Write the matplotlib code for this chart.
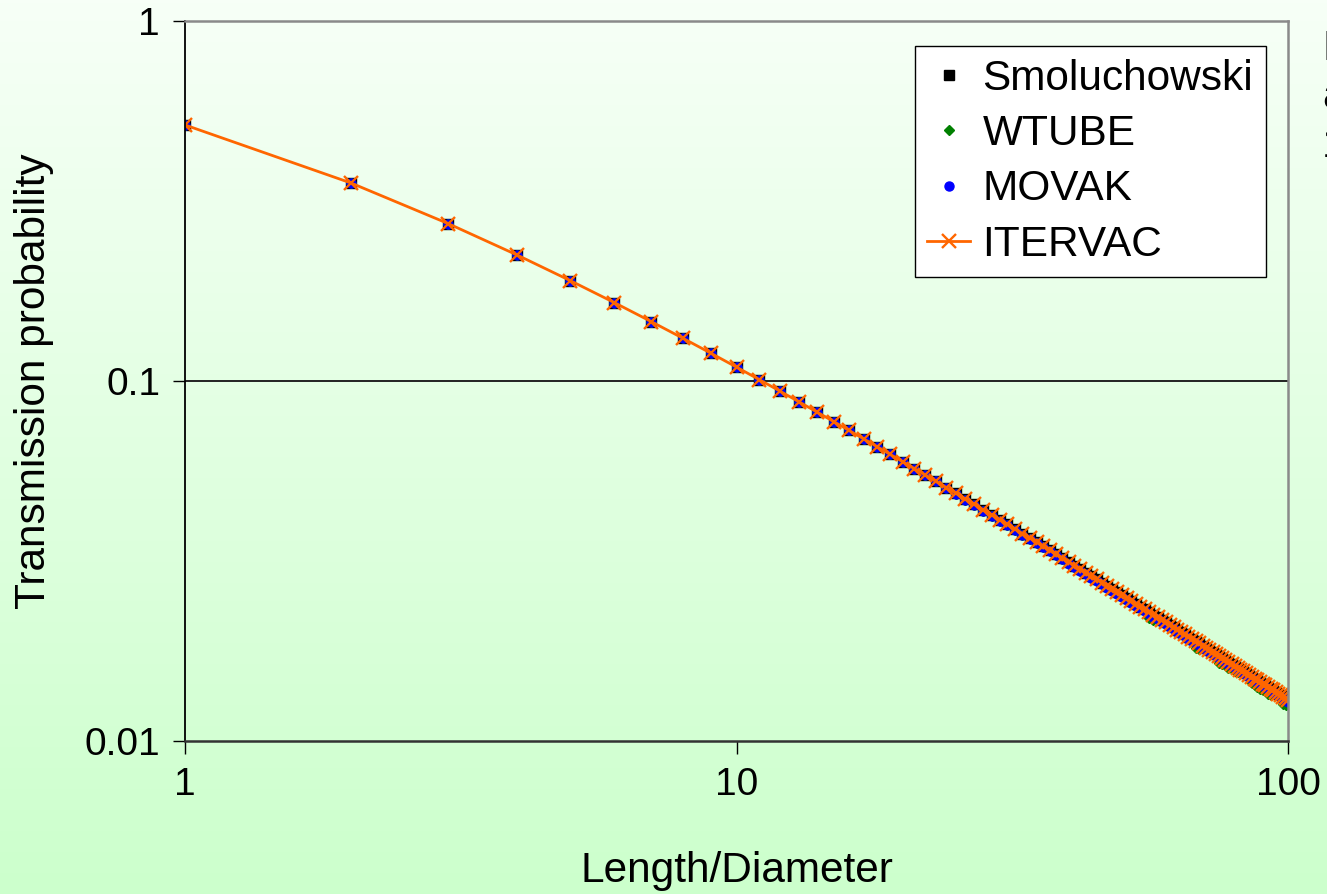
import numpy as np
import matplotlib
matplotlib.use("Agg")
import matplotlib.pyplot as plt

plt.rcParams["font.family"] = ["Liberation Sans", "DejaVu Sans"]

# Length/Diameter ratios 1..100
ratio = list(range(1, 101))

# Transmission probability (Smoluchowski / ITERVAC, they coincide on the chart)
clausing = [
    0.5143, 0.3548, 0.2737, 0.2239, 0.1899, 0.1652, 0.1463, 0.1314, 0.1193, 0.1093,
    0.10087, 0.09366, 0.08742, 0.08197, 0.07716, 0.07290, 0.06908, 0.06565, 0.06254, 0.05972,
    0.05714, 0.05478, 0.05261, 0.05060, 0.04874, 0.04701, 0.04540, 0.04390, 0.04250, 0.04118,
    0.03994, 0.03878, 0.03768, 0.03664, 0.03566, 0.03473, 0.03384, 0.03300, 0.03220, 0.03144,
    0.03072, 0.03002, 0.02936, 0.02873, 0.02812, 0.02754, 0.02698, 0.02644, 0.02593, 0.02543,
    0.02496, 0.02450, 0.02406, 0.02363, 0.02322, 0.02282, 0.02243, 0.02206, 0.02170, 0.02136,
    0.02102, 0.02069, 0.02038, 0.02007, 0.01977, 0.01948, 0.01920, 0.01893, 0.01866, 0.01840,
    0.01815, 0.01791, 0.01767, 0.01744, 0.01722, 0.01700, 0.01678, 0.01657, 0.01637, 0.01617,
    0.01598, 0.01579, 0.01560, 0.01542, 0.01525, 0.01507, 0.01491, 0.01474, 0.01458, 0.01442,
    0.01427, 0.01412, 0.01397, 0.01382, 0.01368, 0.01354, 0.01341, 0.01327, 0.01314, 0.01301,
]

movak = [
    0.5143, 0.3548, 0.2737, 0.2239, 0.1899, 0.1652, 0.1463, 0.1314, 0.1193, 0.1093,
    0.10087, 0.09366, 0.08742, 0.08197, 0.07716, 0.07290, 0.06908, 0.06565, 0.06254, 0.05972,
    0.05714, 0.05478, 0.05261, 0.05060, 0.04845, 0.04673, 0.04513, 0.04364, 0.04225, 0.04093,
    0.03970, 0.03855, 0.03745, 0.03642, 0.03545, 0.03452, 0.03364, 0.03280, 0.03201, 0.03106,
    0.03035, 0.02966, 0.02901, 0.02839, 0.02778, 0.02721, 0.02666, 0.02612, 0.02562, 0.02512,
    0.02466, 0.02421, 0.02377, 0.02335, 0.02294, 0.02255, 0.02216, 0.02180, 0.02144, 0.02110,
    0.02077, 0.02044, 0.02014, 0.01983, 0.01953, 0.01925, 0.01897, 0.01870, 0.01844, 0.01818,
    0.01793, 0.01770, 0.01746, 0.01723, 0.01701, 0.01680, 0.01658, 0.01637, 0.01617, 0.01598,
    0.01579, 0.01560, 0.01541, 0.01523, 0.01507, 0.01489, 0.01473, 0.01456, 0.01441, 0.01425,
    0.01410, 0.01395, 0.01380, 0.01365, 0.01352, 0.01338, 0.01325, 0.01311, 0.01298, 0.01285,
]

wtube = [
    0.5143, 0.3548, 0.2737, 0.2239, 0.1899, 0.1652, 0.1463, 0.1314, 0.1193, 0.1093,
    0.10087, 0.09366, 0.08742, 0.08197, 0.07716, 0.07290, 0.06908, 0.06565, 0.06254, 0.05972,
    0.05714, 0.05478, 0.05261, 0.05060, 0.04845, 0.04673, 0.04513, 0.04364, 0.04225, 0.04093,
    0.03970, 0.03855, 0.03745, 0.03642, 0.03545, 0.03452, 0.03364, 0.03280, 0.03201, 0.03106,
    0.03035, 0.02966, 0.02901, 0.02839, 0.02778, 0.02721, 0.02666, 0.02612, 0.02562, 0.02512,
    0.02466, 0.02421, 0.02377, 0.02335, 0.02294, 0.02190, 0.02170, 0.02180, 0.02144, 0.02110,
    0.02077, 0.02044, 0.02014, 0.01983, 0.01953, 0.01925, 0.01897, 0.01815, 0.01800, 0.01818,
    0.01793, 0.01770, 0.01746, 0.01723, 0.01650, 0.01632, 0.01658, 0.01595, 0.01580, 0.01565,
    0.01550, 0.01560, 0.01541, 0.01523, 0.01507, 0.01450, 0.01430, 0.01410, 0.01398, 0.01385,
    0.01410, 0.01355, 0.01345, 0.01365, 0.01352, 0.01338, 0.01325, 0.01270, 0.01262, 0.01265,
]

smoluchowski = clausing
itervac = clausing

xticks = [1, 10, 100]
xtick_labels = ["1", "10", "100"]
yticks = [0.01, 0.1, 1]
ytick_labels = ["0.01", "0.1", "1"]

FS_TICK = 28
FS = 30.5

fig = plt.figure(figsize=(13.27, 8.94), dpi=100)

# green gradient background
bg = fig.add_axes([0, 0, 1, 1], zorder=-10)
top = np.array([247, 255, 247]) / 255
bottom = np.array([204, 255, 204]) / 255
t = np.linspace(0, 1, 256)[:, None]
grad = top[None, :] * (1 - t) + bottom[None, :] * t
bg.imshow(grad[:, None, :], aspect="auto", extent=[0, 1, 0, 1])
bg.axis("off")

ax = fig.add_axes([185 / 1327, 1 - 741 / 894, 1103 / 1327, 720 / 894])
ax.set_facecolor("none")
ax.set_xscale("log")
ax.set_yscale("log")
ax.set_xlim(1, 100)
ax.set_ylim(0.01, 1)

ax.plot(ratio, smoluchowski, ls="none", marker="s", ms=6.5, color="black", label="Smoluchowski")
ax.plot(ratio, wtube, ls="none", marker="D", ms=5, color="#008000", label="WTUBE")
ax.plot(ratio, movak, ls="none", marker="o", ms=6.5, color="#0000FF", label="MOVAK")
ax.plot(ratio, itervac, ls="-", lw=2, marker="x", ms=10, mew=1.7, color="#FF6600", label="ITERVAC")

ax.axhline(0.1, color="#222222", lw=1.4, zorder=0.5)

ax.set_xticks(xticks)
ax.set_xticklabels(xtick_labels)
ax.set_yticks(yticks)
ax.set_yticklabels(ytick_labels)
ax.minorticks_off()
ax.tick_params(axis="both", which="major", direction="out", length=9, width=1,
               labelsize=FS_TICK, color="black")
ax.tick_params(axis="x", pad=10)
ax.tick_params(axis="y", pad=9)

ax.spines["left"].set_color("black")
ax.spines["left"].set_linewidth(1.3)
ax.spines["bottom"].set_color("#333333")
ax.spines["bottom"].set_linewidth(1.8)
for side in ("top", "right"):
    ax.spines[side].set_color("#8a8a8a")
    ax.spines[side].set_linewidth(1.8)

ax.set_xlabel("Length/Diameter", fontsize=FS, labelpad=34)
ax.set_ylabel("Transmission probability", fontsize=FS, labelpad=22)

leg = ax.legend(loc="upper right", bbox_to_anchor=(0.980, 0.965), fontsize=FS,
                frameon=True, fancybox=False, framealpha=1, edgecolor="black",
                handlelength=1.0, handletextpad=0.3, labelspacing=0.36,
                borderpad=0.3, borderaxespad=0)
leg.get_frame().set_linewidth(1.0)

# text cut off at the right edge of the slide, as in the original
for s, yb in (("M", 60), ("a", 108), ("1", 157)):
    fig.text(1322 / 1327, 1 - yb / 894, s, fontsize=FS, va="baseline", ha="left")

fig.savefig("out.png", dpi=100)
